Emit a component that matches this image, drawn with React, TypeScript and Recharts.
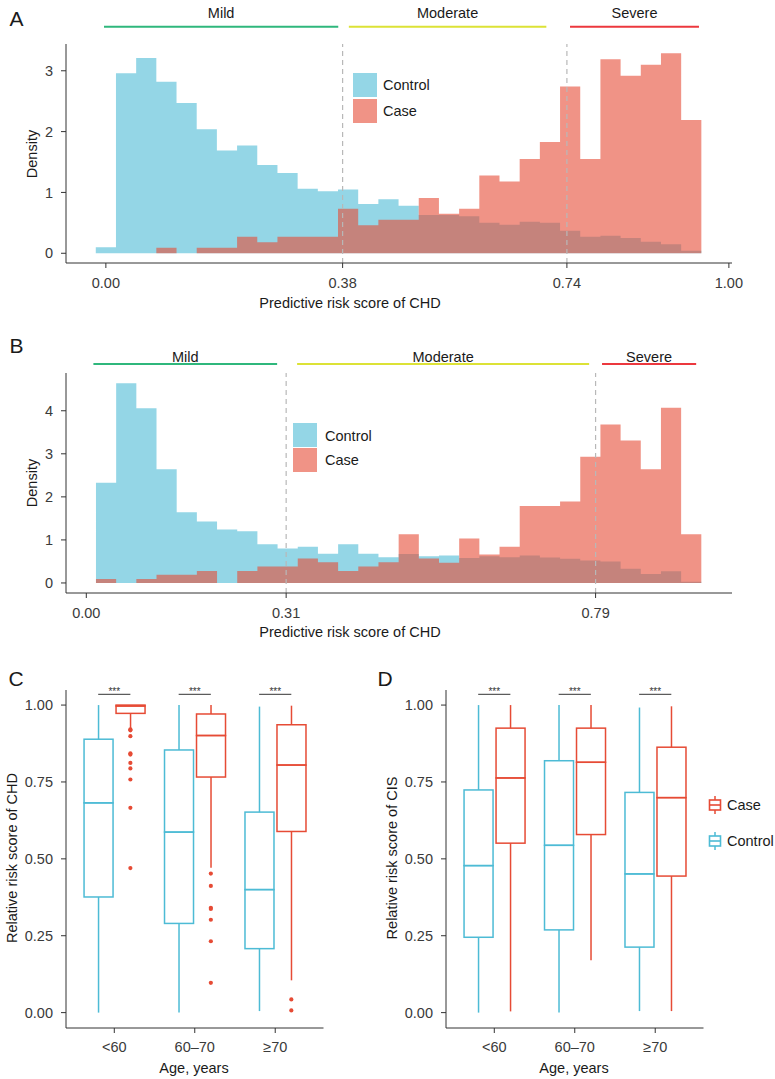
import React from "react";
import {
  ComposedChart,
  Area,
  Bar,
  Scatter,
  XAxis,
  YAxis,
  ReferenceLine,
} from "recharts";

const FONT = '"Liberation Sans", Arial, Helvetica, sans-serif';
const CONTROL = "#4DBBD5";
const CASE = "#E64B35";
const AXIS = "#333333";
const TICK = "#3a3a3a";
const TITLE = "#1a1a1a";
const GREEN = "#2FB77C";
const YELLOW = "#DCE236";
const RED = "#EC383E";

// ---- panel A: density of predictive risk score, 30 bins ----
const aBinStart = -0.0162;
const aBinWidth = 0.0324;
const aControl = [0.1, 2.96, 3.21, 2.82, 2.47, 2.04, 1.69, 1.77, 1.45, 1.32, 1.06, 1.02, 1.05, 0.81, 0.89, 0.78, 0.63, 0.63, 0.61, 0.5, 0.47, 0.52, 0.5, 0.37, 0.27, 0.29, 0.25, 0.19, 0.15, 0.04];
const aCase = [0, 0, 0, 0.09, 0, 0.09, 0.09, 0.27, 0.18, 0.27, 0.27, 0.27, 0.73, 0.46, 0.55, 0.55, 0.91, 0.65, 0.73, 1.28, 1.18, 1.55, 1.83, 2.74, 1.55, 3.19, 2.92, 3.1, 3.29, 2.19];
const aTicks = [0, 0.38, 0.74, 1];
const aCuts = [0.38, 0.74];
const aBands = [
  { label: "Mild", from: -0.003, to: 0.373, color: GREEN },
  { label: "Moderate", from: 0.39, to: 0.707, color: YELLOW },
  { label: "Severe", from: 0.745, to: 0.952, color: RED },
];

// ---- panel B ----
const bBinStart = 0.015;
const bBinWidth = 0.0313;
const bControl = [2.33, 4.64, 4.06, 2.64, 1.64, 1.43, 1.24, 1.2, 0.9, 0.8, 0.84, 0.68, 0.9, 0.68, 0.6, 0.67, 0.62, 0.64, 0.58, 0.62, 0.6, 0.64, 0.59, 0.56, 0.52, 0.5, 0.33, 0.21, 0.27, 0.03];
const bCase = [0.09, 0, 0.09, 0.19, 0.19, 0.28, 0, 0.28, 0.38, 0.38, 0.57, 0.48, 0.28, 0.38, 0.48, 1.13, 0.57, 0.47, 1.03, 0.66, 0.84, 1.79, 1.79, 1.89, 2.93, 3.68, 3.31, 2.64, 4.07, 1.13];
const bTicks = [0, 0.31, 0.79];
const bCuts = [0.31, 0.79];
const bBands = [
  { label: "Mild", from: 0.011, to: 0.296, color: GREEN },
  { label: "Moderate", from: 0.327, to: 0.78, color: YELLOW },
  { label: "Severe", from: 0.8, to: 0.946, color: RED },
];

// ---- panels C and D: box plots by age ----
const ageGroups = ["<60", "60–70", "≥70"];

const cControl = {
  min: [0, 0, 0.005],
  q1: [0.376, 0.29, 0.208],
  med: [0.682, 0.587, 0.4],
  q3: [0.889, 0.854, 0.652],
  max: [1, 1, 0.995],
};
const cCase = {
  min: [0.924, 0.471, 0.105],
  q1: [0.973, 0.766, 0.589],
  med: [0.997, 0.901, 0.805],
  q3: [1, 0.971, 0.936],
  max: [1, 1, 0.998],
};
const cCaseOutliers = [
  [0.921, 0.918, 0.899, 0.843, 0.839, 0.812, 0.794, 0.758, 0.666, 0.47],
  [0.452, 0.412, 0.341, 0.337, 0.302, 0.232, 0.097],
  [0.043, 0.007],
];

const dControl = {
  min: [0, 0, 0.005],
  q1: [0.245, 0.269, 0.213],
  med: [0.478, 0.544, 0.451],
  q3: [0.724, 0.819, 0.716],
  max: [1, 1, 0.992],
};
const dCase = {
  min: [0.004, 0.17, 0.005],
  q1: [0.551, 0.579, 0.444],
  med: [0.763, 0.814, 0.699],
  q3: [0.925, 0.925, 0.863],
  max: [1, 1, 0.996],
};
const dCaseOutliers: number[][] = [[], [], []];

type Stats = { min: number[]; q1: number[]; med: number[]; q3: number[]; max: number[] };
type Band = { label: string; from: number; to: number; color: string };

function histRows(start: number, width: number, control: number[], cases: number[]) {
  const rows = control.map((c, i) => ({ x: start + i * width, control: c, case: cases[i] }));
  const n = control.length;
  rows.push({ x: start + n * width, control: control[n - 1], case: cases[n - 1] });
  return rows;
}

function boxRows(groups: string[], ctl: Stats, cas: Stats) {
  return groups.map((g, i) => ({
    group: g,
    cBase: ctl.min[i],
    cW1: ctl.q1[i] - ctl.min[i],
    cLo: ctl.med[i] - ctl.q1[i],
    cHi: ctl.q3[i] - ctl.med[i],
    cW2: ctl.max[i] - ctl.q3[i],
    kBase: cas.min[i],
    kW1: cas.q1[i] - cas.min[i],
    kLo: cas.med[i] - cas.q1[i],
    kHi: cas.q3[i] - cas.med[i],
    kW2: cas.max[i] - cas.q3[i],
  }));
}

function outlierRows(outliers: number[][]) {
  const rows: { x: number; y: number }[] = [];
  outliers.forEach((list, i) => list.forEach((v) => rows.push({ x: i + 1.2, y: v })));
  return rows;
}

function Txt({ x, y, size = 14.5, rotate = 0, color = TITLE, children }: any) {
  return (
    <div
      style={{
        position: "absolute",
        left: x,
        top: y,
        transform: `translate(-50%, -50%) rotate(${rotate}deg)`,
        fontSize: size,
        lineHeight: 1,
        whiteSpace: "nowrap",
        color,
      }}
    >
      {children}
    </div>
  );
}

function Swatch({ x, y, color }: any) {
  return (
    <div
      style={{
        position: "absolute",
        left: x,
        top: y,
        width: 24,
        height: 24,
        background: color,
        opacity: 0.6,
      }}
    />
  );
}

function HistPanel({ top, rows, xDomain, yDomain, xTicks, yTicks, cuts, bands, bandY, labelOffset, marginTop }: any) {
  return (
    <div style={{ position: "absolute", left: 0, top, width: 775, height: 320 }}>
      <ComposedChart
        width={775}
        height={320}
        data={rows}
        margin={{ top: marginTop, right: 43, bottom: 0, left: 0 }}
      >
        <XAxis
          dataKey="x"
          type="number"
          domain={xDomain}
          ticks={xTicks}
          allowDataOverflow
          tickFormatter={(v: number) => v.toFixed(2)}
          height={57}
          tickSize={5}
          tickMargin={9.5}
          stroke={AXIS}
          tick={{ fill: TICK, fontSize: 14.5, fontFamily: FONT }}
        />
        <YAxis
          type="number"
          domain={yDomain}
          ticks={yTicks}
          allowDataOverflow
          width={66}
          tickSize={5}
          tickMargin={8}
          stroke={AXIS}
          tick={{ fill: TICK, fontSize: 14.5, fontFamily: FONT }}
        />
        <Area
          type="stepAfter"
          dataKey="control"
          stroke="none"
          fill={CONTROL}
          fillOpacity={0.6}
          baseValue={0}
          isAnimationActive={false}
        />
        <Area
          type="stepAfter"
          dataKey="case"
          stroke="none"
          fill={CASE}
          fillOpacity={0.6}
          baseValue={0}
          isAnimationActive={false}
        />
        {cuts.map((c: number) => (
          <ReferenceLine key={c} x={c} stroke="#b8b8b8" strokeDasharray="5 4" strokeWidth={1.2} />
        ))}
        {bands.map((b: Band) => (
          <ReferenceLine
            key={b.label}
            segment={[
              { x: b.from, y: bandY },
              { x: b.to, y: bandY },
            ]}
            ifOverflow="visible"
            stroke={b.color}
            strokeWidth={2}
            label={{ value: b.label, position: "top", offset: labelOffset, fill: TITLE, fontSize: 14.5, fontFamily: FONT }}
          />
        ))}
      </ComposedChart>
    </div>
  );
}

const whisker = (color: string) => (p: any) => (
  <line
    x1={p.x + p.width / 2}
    x2={p.x + p.width / 2}
    y1={p.y}
    y2={p.y + p.height}
    stroke={color}
    strokeWidth={1.5}
  />
);
const boxPart = (color: string) => (p: any) => (
  <rect x={p.x} y={p.y} width={p.width} height={p.height} fill="none" stroke={color} strokeWidth={1.5} />
);
const blank = () => <g />;

function BoxPanel({ left, width, rows, outliers }: any) {
  const plotW = 257.5;
  const pad = (plotW * 0.1) / 3.2;
  return (
    <div style={{ position: "absolute", left, top: 640, width, height: 439 }}>
      <ComposedChart
        width={width}
        height={439}
        data={rows}
        margin={{ top: 50, right: width - 66 - plotW, bottom: 0, left: 0 }}
        barSize={29}
        barGap={3}
      >
        <XAxis
          xAxisId="cat"
          dataKey="group"
          type="category"
          padding={{ left: pad, right: pad }}
          height={51}
          tickSize={5}
          tickMargin={9}
          stroke={AXIS}
          tick={{ fill: TICK, fontSize: 14.5, fontFamily: FONT }}
        />
        <XAxis xAxisId="num" dataKey="x" type="number" domain={[0.4, 3.6]} allowDataOverflow hide />
        <YAxis
          type="number"
          domain={[-0.05, 1.049]}
          ticks={[0, 0.25, 0.5, 0.75, 1]}
          allowDataOverflow
          tickFormatter={(v: number) => v.toFixed(2)}
          width={66}
          tickSize={5}
          tickMargin={8}
          stroke={AXIS}
          tick={{ fill: TICK, fontSize: 14.5, fontFamily: FONT }}
        />
        <Bar xAxisId="cat" dataKey="cBase" stackId="ctl" shape={blank} isAnimationActive={false} />
        <Bar xAxisId="cat" dataKey="cW1" stackId="ctl" shape={whisker(CONTROL)} isAnimationActive={false} />
        <Bar xAxisId="cat" dataKey="cLo" stackId="ctl" shape={boxPart(CONTROL)} isAnimationActive={false} />
        <Bar xAxisId="cat" dataKey="cHi" stackId="ctl" shape={boxPart(CONTROL)} isAnimationActive={false} />
        <Bar xAxisId="cat" dataKey="cW2" stackId="ctl" shape={whisker(CONTROL)} isAnimationActive={false} />
        <Bar xAxisId="cat" dataKey="kBase" stackId="case" shape={blank} isAnimationActive={false} />
        <Bar xAxisId="cat" dataKey="kW1" stackId="case" shape={whisker(CASE)} isAnimationActive={false} />
        <Bar xAxisId="cat" dataKey="kLo" stackId="case" shape={boxPart(CASE)} isAnimationActive={false} />
        <Bar xAxisId="cat" dataKey="kHi" stackId="case" shape={boxPart(CASE)} isAnimationActive={false} />
        <Bar xAxisId="cat" dataKey="kW2" stackId="case" shape={whisker(CASE)} isAnimationActive={false} />
        <Scatter
          xAxisId="num"
          data={outliers}
          dataKey="y"
          isAnimationActive={false}
          shape={(p: any) => <circle cx={p.cx} cy={p.cy} r={2.1} fill={CASE} stroke="none" />}
        />
        {ageGroups.map((g, i) => (
          <ReferenceLine
            key={g}
            xAxisId="num"
            segment={[
              { x: i + 0.8, y: 1.035 },
              { x: i + 1.2, y: 1.035 },
            ]}
            stroke={AXIS}
            strokeWidth={1}
            label={{ value: "***", position: "top", offset: -1, fill: AXIS, fontSize: 10, fontFamily: FONT }}
          />
        ))}
      </ComposedChart>
    </div>
  );
}

function BoxKey({ x, y, color }: any) {
  return (
    <svg style={{ position: "absolute", left: x - 7, top: y - 9 }} width={14} height={18}>
      <line x1={7} x2={7} y1={0} y2={18} stroke={color} strokeWidth={1.5} />
      <rect x={1.5} y={4} width={11} height={10} fill="#fff" stroke={color} strokeWidth={1.6} />
      <line x1={1.5} x2={12.5} y1={9} y2={9} stroke={color} strokeWidth={1.6} />
    </svg>
  );
}

export default function App() {
  const rowsA = histRows(aBinStart, aBinWidth, aControl, aCase);
  const rowsB = histRows(bBinStart, bBinWidth, bControl, bCase);
  const rowsC = boxRows(ageGroups, cControl, cCase);
  const rowsD = boxRows(ageGroups, dControl, dCase);

  return (
    <div
      style={{
        position: "absolute",
        left: 0,
        top: 0,
        width: 775,
        height: 1079,
        background: "#fff",
        fontFamily: FONT,
        overflow: "hidden",
      }}
    >
      <HistPanel
        top={0}
        rows={rowsA}
        xDomain={[-0.064, 1.005]}
        yDomain={[-0.16, 3.44]}
        xTicks={aTicks}
        yTicks={[0, 1, 2, 3]}
        cuts={aCuts}
        bands={aBands}
        bandY={3.722}
        labelOffset={9}
        marginTop={44}
      />
      <HistPanel
        top={330}
        rows={rowsB}
        xDomain={[-0.0315, 1.0016]}
        yDomain={[-0.233, 4.877]}
        xTicks={bTicks}
        yTicks={[0, 1, 2, 3, 4]}
        cuts={bCuts}
        bands={bBands}
        bandY={5.086}
        labelOffset={2.5}
        marginTop={43}
      />
      <BoxPanel left={0} width={380} rows={rowsC} outliers={outlierRows(cCaseOutliers)} />
      <BoxPanel left={380} width={395} rows={rowsD} outliers={outlierRows(dCaseOutliers)} />

      <Txt x={16.5} y={18} size={21}>A</Txt>
      <Txt x={16.5} y={345} size={21}>B</Txt>
      <Txt x={16} y={678} size={21}>C</Txt>
      <Txt x={385} y={678} size={21}>D</Txt>

      <Txt x={32} y={154} rotate={-90}>Density</Txt>
      <Txt x={32} y={483} rotate={-90}>Density</Txt>
      <Txt x={12} y={858} rotate={-90}>Relative risk score of CHD</Txt>
      <Txt x={392} y={858} rotate={-90}>Relative risk score of CIS</Txt>

      <Txt x={350} y={303}>Predictive risk score of CHD</Txt>
      <Txt x={350} y={632}>Predictive risk score of CHD</Txt>
      <Txt x={194} y={1068}>Age, years</Txt>
      <Txt x={574} y={1068}>Age, years</Txt>

      <Swatch x={353} y={73} color={CONTROL} />
      <Swatch x={353} y={99} color={CASE} />
      <div style={{ position: "absolute", left: 383, top: 78, fontSize: 14.5, lineHeight: 1, color: TITLE }}>Control</div>
      <div style={{ position: "absolute", left: 383, top: 104, fontSize: 14.5, lineHeight: 1, color: TITLE }}>Case</div>

      <Swatch x={293} y={423} color={CONTROL} />
      <Swatch x={293} y={448} color={CASE} />
      <div style={{ position: "absolute", left: 325, top: 429, fontSize: 14.5, lineHeight: 1, color: TITLE }}>Control</div>
      <div style={{ position: "absolute", left: 325, top: 453, fontSize: 14.5, lineHeight: 1, color: TITLE }}>Case</div>

      <BoxKey x={715} y={805} color={CASE} />
      <BoxKey x={715} y={841} color={CONTROL} />
      <div style={{ position: "absolute", left: 727, top: 798, fontSize: 14.5, lineHeight: 1, color: TITLE }}>Case</div>
      <div style={{ position: "absolute", left: 727, top: 834, fontSize: 14.5, lineHeight: 1, color: TITLE }}>Control</div>
    </div>
  );
}
